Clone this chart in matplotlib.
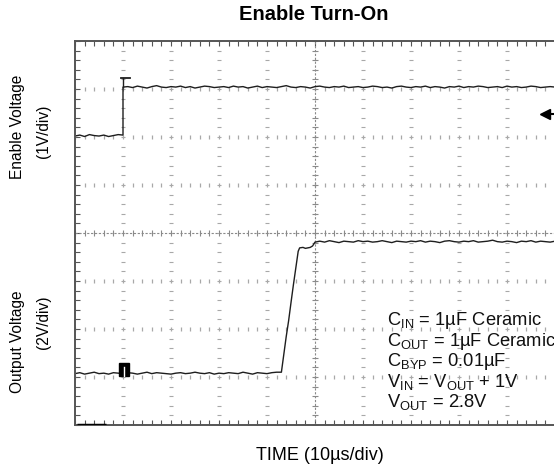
import numpy as np
import matplotlib
matplotlib.use("Agg")
import matplotlib.pyplot as plt
from matplotlib.patches import Rectangle

plt.rcParams['font.family'] = ['Liberation Sans', 'DejaVu Sans']
plt.rcParams['mathtext.default'] = 'regular'

# ---------------- data (x in µs, 10 µs/div; y in screen divisions) ----------------
enable_low_time = list(range(0, 11))
enable_low = [6.02, 6.04, 6.01, 6.05, 6.03, 6.02, 6.04, 6.01, 6.03, 6.05, 6.04]
enable_high_time = [10] + list(range(11, 101))
enable_high = [7.04,
    7.05, 7.03, 7.06, 7.04, 7.02, 7.05, 7.07, 7.04, 7.03, 7.05,
    7.04, 7.06, 7.03, 7.05, 7.02, 7.04, 7.06, 7.05, 7.03, 7.04,
    7.05, 7.03, 7.06, 7.04, 7.05, 7.02, 7.04, 7.06, 7.03, 7.05,
    7.04, 7.03, 7.05, 7.07, 7.04, 7.03, 7.05, 7.04, 7.02, 7.05,
    7.06, 7.04, 7.03, 7.05, 7.04, 7.06, 7.03, 7.04, 7.05, 7.03,
    7.04, 7.06, 7.05, 7.03, 7.04, 7.02, 7.05, 7.06, 7.04, 7.03,
    7.05, 7.04, 7.06, 7.03, 7.05, 7.04, 7.02, 7.05, 7.04, 7.06,
    7.03, 7.05, 7.04, 7.06, 7.05, 7.03, 7.04, 7.05, 7.03, 7.06,
    7.04, 7.05, 7.03, 7.04, 7.06, 7.05, 7.03, 7.04, 7.05, 7.04]
enable_spike = 7.23

out_low_time = list(range(0, 43))
out_low = [1.07, 1.09, 1.06, 1.08, 1.10, 1.07, 1.08, 1.06, 1.09, 1.08,
           1.07, 1.09, 1.08, 1.06, 1.08, 1.10, 1.07, 1.09, 1.08, 1.07,
           1.06, 1.08, 1.09, 1.07, 1.08, 1.10, 1.08, 1.07, 1.09, 1.06,
           1.08, 1.07, 1.09, 1.08, 1.07, 1.10, 1.08, 1.06, 1.09, 1.08,
           1.07, 1.09, 1.10]
out_rise_time = [43.0, 43.5, 44.0, 44.5, 45.0, 45.5, 46.0, 46.5, 46.8, 47.5, 48.0, 49.0, 49.5, 50.0]
out_rise = [1.10, 1.47, 1.84, 2.17, 2.55, 2.92, 3.27, 3.62, 3.69, 3.70, 3.68, 3.70, 3.73, 3.81]
out_high_time = list(range(51, 101))
out_high = [3.83, 3.81, 3.84, 3.82, 3.80, 3.83, 3.82, 3.81, 3.84, 3.82,
            3.83, 3.81, 3.82, 3.84, 3.82, 3.80, 3.83, 3.82, 3.81, 3.83,
            3.82, 3.84, 3.81, 3.83, 3.82, 3.80, 3.83, 3.84, 3.82, 3.81,
            3.83, 3.82, 3.84, 3.81, 3.82, 3.83, 3.85, 3.82, 3.81, 3.83,
            3.82, 3.80, 3.83, 3.82, 3.84, 3.81, 3.83, 3.82, 3.81, 3.83]

title = "Enable Turn-On"
xlabel = "TIME (10µs/div)"
notes = [r"C$_{IN}$ = 1µF Ceramic",
         r"C$_{OUT}$ = 1µF Ceramic",
         r"C$_{BYP}$ = 0.01µF",
         r"V$_{IN}$ = V$_{OUT}$ + 1V",
         r"V$_{OUT}$ = 2.8V"]

# ---------------- figure ----------------
W, H = 554, 472
fig = plt.figure(figsize=(W / 100, H / 100), dpi=100)
L, R, T, B = 75, 554, 41, 425
ax = fig.add_axes([L / W, 1 - B / H, (R - L) / W, (B - T) / H])
ax.set_xlim(0, 100 * (R - L) / 480)
ax.set_ylim(0, 8)

grid_c = '#a8a8a8'
# graticule
ys_minor = np.arange(0, 8.01, 0.2)
xs_minor = np.arange(0, 100.01, 2)
for gx in range(10, 100, 10):
    if gx == 50:
        continue
    ax.plot([gx] * len(ys_minor), ys_minor, ls='none', marker='_', ms=3, mew=0.8, color=grid_c)
for gy in [1, 2, 3, 5, 6, 7]:
    ax.plot(xs_minor, [gy] * len(xs_minor), ls='none', marker='|', ms=2.2, mew=0.9, color=grid_c)
# center cross
ax.plot([50, 50], [0, 8], ls=(0, (2, 1.5)), lw=0.8, color='#8a8a8a')
ax.plot([0, 100], [4, 4], ls=(0, (2, 1.5)), lw=0.8, color='#8a8a8a')
ax.plot([50] * len(ys_minor), ys_minor, ls='none', marker='_', ms=5, mew=0.8, color='#8a8a8a')
ax.plot(xs_minor, [4] * len(xs_minor), ls='none', marker='|', ms=5, mew=0.8, color='#8a8a8a')

# traces
tc = '#1e1e1e'
ax.plot(enable_low_time + enable_high_time, enable_low + enable_high, color=tc, lw=1.0)
ax.plot([10, 10], [enable_high[0], enable_spike], color=tc, lw=1.0)
ax.plot([9.6, 11.4], [enable_spike, enable_spike], color=tc, lw=1.3)
ax.plot(out_low_time + out_rise_time + out_high_time, out_low + out_rise + out_high, color=tc, lw=1.0)

# markers
ax.add_patch(Rectangle((9.2, 1.02), 2.0, 0.27, color='black', zorder=5))
ax.plot([10.2, 10.2], [1.02, 1.2], color='white', lw=1.0, zorder=6)
ax.plot([98.0], [6.48], marker='<', ms=7, color='black', clip_on=False)
ax.plot([98.0, 99.8], [6.48, 6.48], color='black', lw=1.5, clip_on=False)
ax.plot([0.4, 6.5], [0.0, 0.0], color='black', lw=2.5, solid_capstyle='butt', zorder=6)

# frame
for s in ['left', 'top', 'bottom']:
    ax.spines[s].set_color('#555555')
    ax.spines[s].set_linewidth(1.4)
ax.spines['right'].set_visible(False)
ax.set_xticks(np.arange(0, 100, 10))
ax.set_xticks(np.arange(0, 100, 2), minor=True)
ax.set_yticks(np.arange(0, 8.01, 1))
ax.set_yticks(np.arange(0, 8.01, 0.2), minor=True)
ax.tick_params(which='both', direction='in', top=True, bottom=True, left=True, right=False,
               labelbottom=False, labelleft=False, length=3.5, width=0.8, color='#555555')

# texts
for i, line in enumerate(notes):
    ax.text(65, (425 - (325 + 20.5 * i)) / 48, line, fontsize=13.2, ha='left', va='baseline', color='#111111')

fig.text(314 / W, 1 - 15 / H, title, fontsize=14.5, fontweight='bold', ha='center', va='center')
fig.text(320 / W, 1 - 455 / H, xlabel, fontsize=13, ha='center', va='center')
fig.text(18 / W, 1 - 127 / H, "Enable Voltage", fontsize=11.2, rotation=90, ha='center', va='center')
fig.text(43 / W, 1 - 131 / H, "(1V/div)", fontsize=11.2, rotation=90, ha='center', va='center')
fig.text(18 / W, 1 - 342 / H, "Output Voltage", fontsize=11.2, rotation=90, ha='center', va='center')
fig.text(43 / W, 1 - 322 / H, "(2V/div)", fontsize=11.2, rotation=90, ha='center', va='center')

fig.savefig("out.png", dpi=100)
